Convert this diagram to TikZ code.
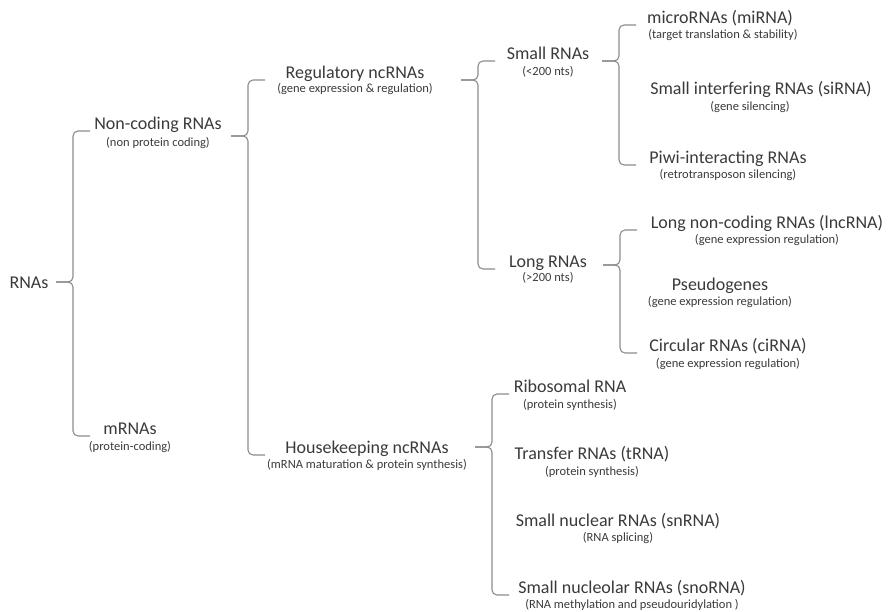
\documentclass[tikz,border=0pt]{standalone}
\usepackage{fontspec}
\setmainfont{Carlito}
\usetikzlibrary{calc}
\definecolor{txtgray}{HTML}{3A3A3A}
\definecolor{bracegray}{HTML}{8C8C8C}

% curly bracket: spine x, parent, nub shift, first child, last child
\newcommand{\rnabrace}[5]{%
  \coordinate (sp) at (#1,0);
  \draw[brace] ($(sp |- #4.base)+(17,2)$) -- ($(sp |- #4.base)+(0,2)$)
    -- ($(sp |- #2.base)+(0,#3)$) -- ($(sp |- #2.base)+(-17,#3)$);
  \draw[brace] ($(sp |- #5.base)+(17,2)$) -- ($(sp |- #5.base)+(0,2)$)
    -- ($(sp |- #2.base)+(0,#3)$) -- ($(sp |- #2.base)+(-17,#3)$);
}

\begin{document}
\begin{tikzpicture}[
  x=1pt, y=-1pt,
  rna/.style={font=\fontsize{18}{20}\selectfont, text=txtgray, inner sep=0pt, anchor=base},
  role/.style={font=\fontsize{12.5}{14}\selectfont, text=txtgray, inner sep=0pt, anchor=base},
  brace/.style={draw=bracegray, line width=1.1pt, rounded corners=5pt},
]
  \useasboundingbox (0,0) rectangle (889,611);

  % level 0 and 1
  \node[rna] (rnas) at (29,288) {RNAs};
  \node[rna] (noncoding) at (158,129) {Non-coding RNAs};
  \node[role] (noncodingsub) at (158,146) {(non protein coding)};
  \node[rna] (mrnas) at (130,434) {mRNAs};
  \node[role] (mrnassub) at (130,450) {(protein-coding)};

  % level 2
  \node[rna] (regulatory) at (355,78) {Regulatory ncRNAs};
  \node[role] (regulatorysub) at (355,92) {(gene expression \& regulation)};
  \node[rna] (housekeeping) at (367,453) {Housekeeping ncRNAs};
  \node[role] (housekeepingsub) at (367,468) {(mRNA maturation \& protein synthesis)};

  % level 3
  \node[rna] (small) at (548,59) {Small RNAs};
  \node[role] (smallsub) at (548,75) {(<200 nts)};
  \node[rna] (long) at (548,267) {Long RNAs};
  \node[role] (longsub) at (548,281) {(>200 nts)};

  % small RNAs
  \node[rna] (mirna) at (720,23) {microRNAs (miRNA)};
  \node[role] (mirnasub) at (723,38) {(target translation \& stability)};
  \node[rna] (sirna) at (761,94) {Small interfering RNAs (siRNA)};
  \node[role] (sirnasub) at (750,110) {(gene silencing)};
  \node[rna] (pirna) at (728,163) {Piwi-interacting RNAs};
  \node[role] (pirnasub) at (728,178) {(retrotransposon silencing)};

  % long RNAs
  \node[rna] (lncrna) at (767,228) {Long non-coding RNAs (lncRNA)};
  \node[role] (lncrnasub) at (767,243) {(gene expression regulation)};
  \node[rna] (pseudo) at (720,290) {Pseudogenes};
  \node[role] (pseudosub) at (720,305) {(gene expression regulation)};
  \node[rna] (circrna) at (728,351) {Circular RNAs (ciRNA)};
  \node[role] (circrnasub) at (728,367) {(gene expression regulation)};

  % housekeeping
  \node[rna] (rrna) at (570,392) {Ribosomal RNA};
  \node[role] (rrnasub) at (570,408) {(protein synthesis)};
  \node[rna] (trna) at (592,459) {Transfer RNAs (tRNA)};
  \node[role] (trnasub) at (592,475) {(protein synthesis)};
  \node[rna] (snrna) at (618,526) {Small nuclear RNAs (snRNA)};
  \node[role] (snrnasub) at (618,541) {(RNA splicing)};
  \node[rna] (snorna) at (632,593) {Small nucleolar RNAs (snoRNA)};
  \node[role] (snornasub) at (632,608) {(RNA methylation and pseudouridylation )};

  % brackets
  \rnabrace{73}{rnas}{-6}{noncoding}{mrnas}
  \rnabrace{248}{noncoding}{7}{regulatory}{housekeeping}
  \rnabrace{478}{regulatory}{2}{small}{long}
  \rnabrace{619}{small}{2}{mirna}{pirna}
  \rnabrace{620}{long}{-2}{lncrna}{circrna}
  \rnabrace{492}{housekeeping}{-6}{rrna}{snorna}
\end{tikzpicture}
\end{document}
